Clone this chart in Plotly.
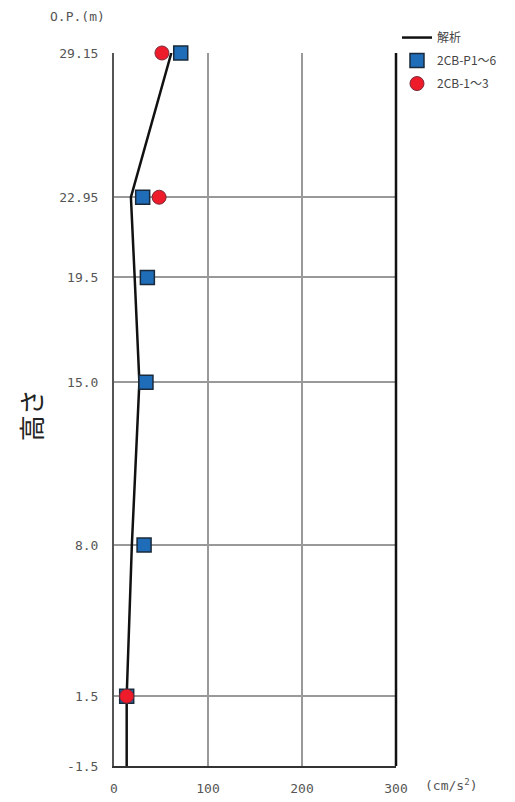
import plotly.graph_objects as go

# Heights (O.P. m)
heights = [29.15, 22.95, 19.5, 15.0, 8.0, 1.5, -1.5]
tick_text = ["29.15", "22.95", "19.5", "15.0", "8.0", "1.5", "-1.5"]

# 解析 (analysis) line values
analysis_h = [29.15, 22.95, 19.5, 15.0, 8.0, 1.5, -1.5]
analysis_x = [61, 18, 22, 27, 19, 13.5, 13.5]

# 2CB-P1~6 observation (squares)
p_h = [29.15, 22.95, 19.5, 15.0, 8.0, 1.5]
p_x = [71, 30.5, 35.5, 34, 32, 13.5]

# 2CB-1~3 observation (circles)
c_h = [29.15, 22.95, 1.5]
c_x = [51, 48, 13.5]

x_ticks = [0, 100, 200, 300]

mono = "DejaVu Sans Mono, monospace"
cjk = "Noto Sans CJK JP, Noto Sans, sans-serif"

fig = go.Figure()
fig.add_trace(go.Scatter(
    x=analysis_x, y=analysis_h, mode="lines", name="解析", legendgroup="a",
    line=dict(color="#111111", width=2.5), cliponaxis=False))
fig.add_trace(go.Scatter(
    x=p_x, y=p_h, mode="markers", name="2CB-P1～6", legendgroup="b",
    marker=dict(symbol="square", size=14, color="#1f6cb8",
                line=dict(color="#1a2a3a", width=1.5)),
    cliponaxis=False))
fig.add_trace(go.Scatter(
    x=c_x, y=c_h, mode="markers", name="2CB-1～3", legendgroup="c",
    marker=dict(symbol="circle", size=14, color="#ee1c2a",
                line=dict(color="#7a2a3a", width=1)),
    cliponaxis=False))

# The page body adds an 8px margin, so the figure is sized to fill the rest.
fig.update_layout(
    width=507, height=794,
    margin=dict(l=106, r=119, t=45, b=36, autoexpand=False),
    paper_bgcolor="white", plot_bgcolor="white",
    font=dict(family=mono, size=13, color="#555555"),
    showlegend=True,
    legend=dict(x=1.0035, y=1.042, xanchor="left", yanchor="top",
                font=dict(family=cjk, size=12, color="#444444"),
                bgcolor="rgba(0,0,0,0)", tracegroupgap=4, itemwidth=30),
    xaxis=dict(range=[0, 300], tickvals=x_ticks, ticktext=[str(v) for v in x_ticks],
               showgrid=True, gridcolor="#999999", gridwidth=1.5,
               showline=True, linecolor="#333333", linewidth=2,
               zeroline=False, ticks="", ticklabelstandoff=9, automargin=False,
               tickfont=dict(family=mono, size=13, color="#555555")),
    yaxis=dict(range=[-1.5, 29.15], tickvals=heights, ticktext=tick_text,
               showgrid=True, gridcolor="#999999", gridwidth=1.5,
               showline=True, linecolor="#555555", linewidth=2,
               zeroline=False, ticks="", ticklabelstandoff=11, automargin=False,
               tickfont=dict(family=mono, size=13, color="#555555")),
    shapes=[dict(type="line", xref="paper", yref="paper", x0=1, x1=1, y0=0, y1=1,
                 line=dict(color="#111111", width=2.5))],
    annotations=[
        dict(text="高さ", xref="paper", yref="paper", x=-0.298, y=0.492,
             xanchor="center", yanchor="middle", showarrow=False, textangle=-90,
             font=dict(family=cjk, size=26, color="#222222")),
        dict(text="O.P.(m)", xref="paper", yref="paper", x=-0.131, y=1.0515,
             xanchor="center", yanchor="middle", showarrow=False,
             font=dict(family=mono, size=13, color="#555555")),
        dict(text="(cm/s<sup>2</sup>)", xref="paper", yref="paper", x=1.195, y=-0.0266,
             xanchor="center", yanchor="middle", showarrow=False,
             font=dict(family=mono, size=13, color="#555555")),
    ],
)

fig.write_html("out.html")
